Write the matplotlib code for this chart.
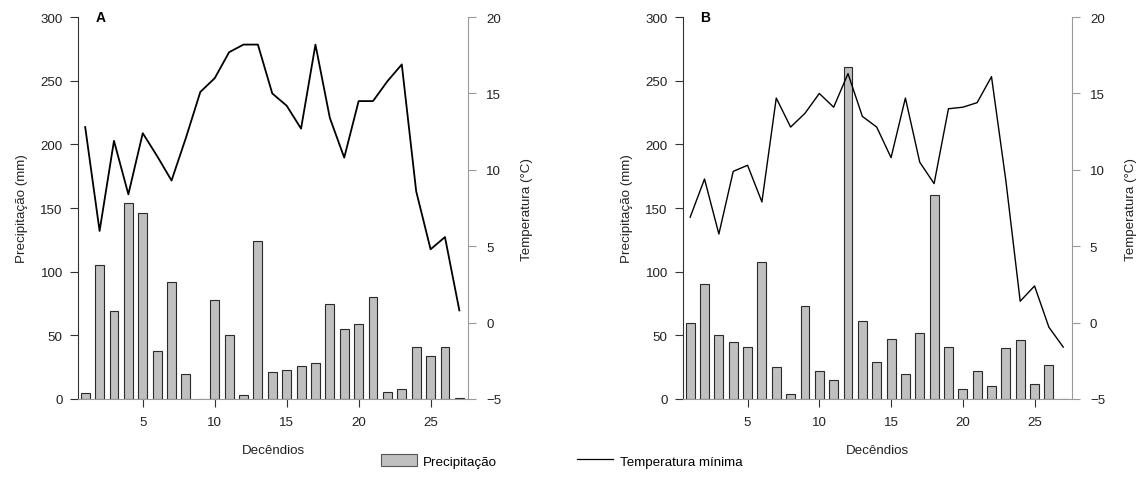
import matplotlib
matplotlib.use("Agg")
import matplotlib.pyplot as plt
from matplotlib.patches import Patch
from matplotlib.lines import Line2D

plt.rcParams['font.family'] = ['Liberation Sans', 'DejaVu Sans']
plt.rcParams['font.size'] = 9.6

decendios = list(range(1, 28))

# Painel A
precip_a = [5, 105, 69, 154, 146, 38, 92, 20, 0, 78, 50, 3, 124, 21, 23, 26,
            28, 75, 55, 59, 80, 5.5, 8, 41, 34, 41, 0.6]
temp_a = [12.8, 6.0, 11.9, 8.4, 12.4, 10.9, 9.3, 12.1, 15.1, 16.0, 17.7, 18.2,
          18.2, 15.0, 14.2, 12.7, 18.2, 13.4, 10.8, 14.5, 14.5, 15.8, 16.9,
          8.6, 4.8, 5.6, 0.8]

# Painel B
precip_b = [60, 90, 50, 45, 41, 108, 25, 4, 73, 22, 15, 261, 61, 29, 47, 20,
            52, 160, 41, 8, 22, 10, 40, 46, 12, 27, 0]
temp_b = [6.9, 9.4, 5.8, 9.9, 10.3, 7.9, 14.7, 12.8, 13.7, 15.0, 14.1, 16.3,
          13.5, 12.8, 10.8, 14.7, 10.5, 9.1, 14.0, 14.1, 14.4, 16.1, 9.3,
          1.4, 2.4, -0.3, -1.6]

x_ticks = [5, 10, 15, 20, 25]
precip_ticks = [0, 50, 100, 150, 200, 250, 300]
temp_ticks = [-5, 0, 5, 10, 15, 20]

bar_color = '#c0c0c0'
edge_color = '#2a2a2a'
spine_gray = '#9a9a9a'

fig = plt.figure(figsize=(11.37, 4.81), dpi=100)


def draw_panel(rect, precip, temp, letter, lw):
    ax = fig.add_axes(rect)
    ax.bar(decendios, precip, width=0.62, color=bar_color,
           edgecolor=edge_color, linewidth=0.8)
    ax.set_xlim(0.5, 27.6)
    ax.set_ylim(0, 300)
    ax.set_yticks(precip_ticks)
    ax.set_xticks(x_ticks)
    ax.spines['top'].set_visible(False)
    ax.spines['right'].set_visible(False)
    ax.spines['left'].set_color('#333333')
    ax.spines['bottom'].set_color(spine_gray)
    ax.tick_params(axis='y', direction='out', length=6, width=0.8,
                   color='#333333', labelcolor='#222222', pad=5)
    ax.tick_params(axis='x', direction='out', length=6, width=0.8,
                   color='#333333', labelcolor='#222222', pad=6)
    ax.set_ylabel('Precipitação (mm)', color='#222222', labelpad=9)
    ax.set_xlabel('Decêndios', color='#222222', labelpad=12)
    ax.text(0.045, 1.0, letter, transform=ax.transAxes, fontweight='bold',
            fontsize=10, va='center', ha='left')

    ax2 = ax.twinx()
    ax2.plot(decendios, temp, color='black', linewidth=lw)
    ax2.set_ylim(-5, 20)
    ax2.set_yticks(temp_ticks)
    for s in ['top', 'left', 'bottom']:
        ax2.spines[s].set_visible(False)
    ax2.spines['right'].set_color(spine_gray)
    ax2.tick_params(axis='y', direction='out', length=6, width=0.8,
                    color=spine_gray, labelcolor='#222222', pad=7)
    ax2.set_ylabel('Temperatura (°C)', color='#222222', labelpad=14)
    return ax, ax2


draw_panel([0.0686, 0.1684, 0.343, 0.794], precip_a, temp_a, 'A', 1.3)
draw_panel([0.6007, 0.1684, 0.342, 0.794], precip_b, temp_b, 'B', 1.0)

handles = [Patch(facecolor=bar_color, edgecolor='#555555', linewidth=0.8),
           Line2D([0], [0], color='black', linewidth=0.9)]
fig.legend(handles, ['Precipitação', 'Temperatura mínima'], loc='center',
           bbox_to_anchor=(0.494, 0.04), ncol=2, frameon=False,
           handlelength=2.7, handleheight=1.0, columnspacing=6.0,
           handletextpad=0.5)

fig.savefig('out.png', dpi=100)
